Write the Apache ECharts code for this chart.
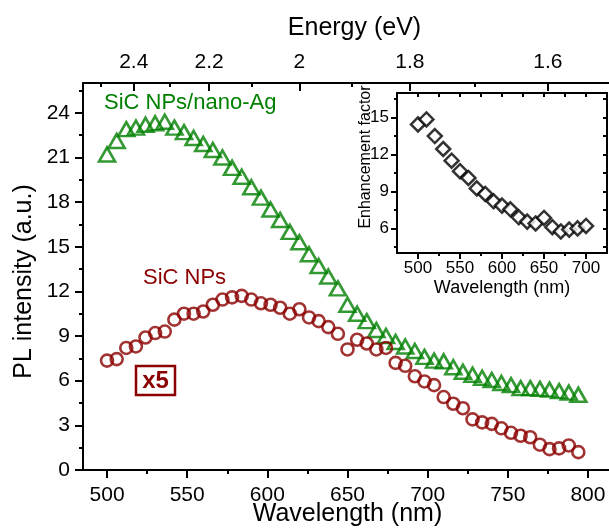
<!DOCTYPE html>
<html>
<head>
<meta charset="utf-8">
<script src="https://cdn.jsdelivr.net/npm/echarts@6/dist/echarts.min.js"></script>
<style>
  html, body { margin: 0; padding: 0; background: #fff; }
  #chart { width: 609px; height: 532px; }
</style>
</head>
<body>
<div id="chart"></div>
<script>
// PL spectra, one point every 6 nm
const wavelength = [
  500, 506, 512, 518, 524, 530, 536, 542, 548, 554,
  560, 566, 572, 578, 584, 590, 596, 602, 608, 614,
  620, 626, 632, 638, 644, 650, 656, 662, 668, 674,
  680, 686, 692, 698, 704, 710, 716, 722, 728, 734,
  740, 746, 752, 758, 764, 770, 776, 782, 788, 794
];
// SiC NPs on nano-Ag
const plNanoAg = [
  21.2, 22.1, 22.9, 23.0, 23.2, 23.3, 23.4, 23.0, 22.7, 22.3,
  21.9, 21.5, 21.0, 20.3, 19.7, 19.0, 18.3, 17.5, 16.8, 16.0,
  15.3, 14.5, 13.7, 13.0, 12.2, 11.1, 10.5, 10.0, 9.4, 9.0,
  8.6, 8.3, 8.0, 7.6, 7.35, 7.3, 6.9, 6.6, 6.4, 6.2,
  6.05, 5.85, 5.7, 5.5, 5.5, 5.45, 5.4, 5.3, 5.2, 5.05
];
// bare SiC NPs (x5)
const plSiC = [
  7.35, 7.45, 8.2, 8.3, 8.9, 9.2, 9.3, 10.1, 10.5, 10.5,
  10.65, 11.1, 11.45, 11.6, 11.7, 11.45, 11.2, 11.1, 10.9, 10.5,
  10.8, 10.25, 10.0, 9.6, 9.15, 8.1, 8.75, 8.5, 8.1, 8.2,
  7.2, 7.0, 6.3, 5.95, 5.7, 4.9, 4.45, 4.15, 3.4, 3.2,
  3.1, 2.8, 2.5, 2.3, 2.2, 1.7, 1.4, 1.45, 1.65, 1.2
];

// inset: enhancement factor
const insetWavelength = [500, 510, 520, 530, 540, 550, 560, 570, 580, 590, 600,
  610, 620, 630, 640, 650, 660, 670, 680, 690, 700];
const enhancement = [14.45, 14.85, 13.5, 12.45, 11.5, 10.65, 10.1, 9.25, 8.8, 8.2, 7.85,
  7.55, 6.9, 6.55, 6.4, 6.85, 6.1, 5.75, 5.9, 6.0, 6.2];

// ticks
const xTicks = [500, 550, 600, 650, 700, 750, 800];
const xMinor = [525, 575, 625, 675, 725, 775];
const yTicks = [0, 3, 6, 9, 12, 15, 18, 21, 24];
const yMinor = [1.5, 4.5, 7.5, 10.5, 13.5, 16.5, 19.5, 22.5, 25.5];
const energyTicks = [2.4, 2.2, 2.0, 1.8, 1.6];
const energyMinor = [2.5, 2.3, 2.1, 1.9, 1.7];
const insetXTicks = [500, 550, 600, 650, 700];
const insetXMinor = [525, 575, 625, 675];
const insetYTicks = [6, 9, 12, 15];
const insetYMinor = [4.5, 7.5, 10.5, 13.5, 16.5];

const FONT = '"Liberation Sans", Arial, sans-serif';
const GREEN = '#008000';
const RED = '#8b0000';
const toNm = e => 1240 / e;

function tickAxis(extra) {
  // bare axis: only ticks, no line, no labels
  return Object.assign({
    type: 'value',
    axisLine: { show: false, onZero: false },
    axisLabel: { show: false },
    splitLine: { show: false }
  }, extra);
}

const line = { show: true, onZero: false, lineStyle: { color: '#000', width: 2 } };
const tickStyle = { color: '#000', width: 2 };

const chart = echarts.init(document.getElementById('chart'), null, { renderer: 'canvas' });

chart.setOption({
  animation: false,
  backgroundColor: '#fff',
  textStyle: { fontFamily: FONT },
  grid: [
    { left: 83, top: 83, right: -3, bottom: 62, outerBoundsMode: 'none' },
    { left: 397, top: 93, width: 210, height: 160, outerBoundsMode: 'none',
      show: true, backgroundColor: '#fff', borderWidth: 0 }
  ],
  xAxis: [
    {
      gridIndex: 0, type: 'value', position: 'bottom', min: 485, max: 815,
      axisLine: line,
      axisTick: { customValues: xTicks, length: 8, lineStyle: tickStyle },
      axisLabel: { customValues: xTicks, margin: 15, fontSize: 21, color: '#000', fontFamily: FONT },
      splitLine: { show: false },
      name: 'Wavelength (nm)', nameLocation: 'middle', nameGap: 32, nameMoveOverlap: false,
      nameTextStyle: { fontSize: 25, color: '#000', fontFamily: FONT }
    },
    tickAxis({ gridIndex: 0, position: 'bottom', min: 485, max: 815,
      axisTick: { customValues: xMinor, length: 4, lineStyle: tickStyle } }),
    {
      gridIndex: 0, type: 'value', position: 'top', min: 485, max: 815,
      axisLine: line,
      axisTick: { customValues: energyTicks.map(toNm), inside: true, length: 8, lineStyle: tickStyle },
      axisLabel: {
        customValues: energyTicks.map(toNm), margin: 10, fontSize: 21, color: '#000', fontFamily: FONT,
        formatter: v => String(Math.round(1240 / v * 10) / 10)
      },
      splitLine: { show: false },
      name: 'Energy (eV)', nameLocation: 'middle', nameGap: 42, nameMoveOverlap: false,
      nameTextStyle: { fontSize: 25, color: '#000', fontFamily: FONT, padding: [0, 0, 0, 14] }
    },
    tickAxis({ gridIndex: 0, position: 'top', min: 485, max: 815,
      axisTick: { customValues: energyMinor.map(toNm), inside: true, length: 4, lineStyle: tickStyle } }),
    // inset
    {
      gridIndex: 1, type: 'value', position: 'bottom', min: 475, max: 725,
      axisLine: line,
      axisTick: { customValues: insetXTicks, length: 6, lineStyle: tickStyle },
      axisLabel: { customValues: insetXTicks, margin: 7, fontSize: 17, color: '#000', fontFamily: FONT },
      splitLine: { show: false },
      name: 'Wavelength (nm)', nameLocation: 'middle', nameGap: 26, nameMoveOverlap: false,
      nameTextStyle: { fontSize: 18, color: '#000', fontFamily: FONT }
    },
    tickAxis({ gridIndex: 1, position: 'bottom', min: 475, max: 725,
      axisTick: { customValues: insetXMinor, length: 3, lineStyle: tickStyle } }),
    tickAxis({ gridIndex: 1, position: 'top', min: 475, max: 725, axisLine: line,
      axisTick: { customValues: insetXTicks.concat(insetXMinor), inside: true, length: 4, lineStyle: tickStyle } })
  ],
  yAxis: [
    {
      gridIndex: 0, type: 'value', position: 'left', min: 0, max: 26,
      axisLine: line,
      axisTick: { customValues: yTicks, length: 8, lineStyle: tickStyle },
      axisLabel: { customValues: yTicks, margin: 13, fontSize: 21, color: '#000', fontFamily: FONT },
      splitLine: { show: false },
      name: 'PL intensity (a.u.)', nameLocation: 'middle', nameGap: 46, nameMoveOverlap: false,
      nameTextStyle: { fontSize: 25, color: '#000', fontFamily: FONT, padding: [0, 10, 0, 0] }
    },
    tickAxis({ gridIndex: 0, position: 'left', min: 0, max: 26,
      axisTick: { customValues: yMinor, length: 4, lineStyle: tickStyle } }),
    // inset
    {
      gridIndex: 1, type: 'value', position: 'left', min: 4, max: 17,
      axisLine: line,
      axisTick: { customValues: insetYTicks, length: 6, lineStyle: tickStyle },
      axisLabel: { customValues: insetYTicks, margin: 8, fontSize: 17, color: '#000', fontFamily: FONT },
      splitLine: { show: false },
      name: 'Enhancement factor', nameLocation: 'middle', nameGap: 23, nameMoveOverlap: false,
      nameTextStyle: { fontSize: 16, color: '#000', fontFamily: FONT, padding: [0, 0, 0, 32] }
    },
    tickAxis({ gridIndex: 1, position: 'left', min: 4, max: 17,
      axisTick: { customValues: insetYMinor, length: 3, lineStyle: tickStyle } }),
    tickAxis({ gridIndex: 1, position: 'right', min: 4, max: 17, axisLine: line,
      axisTick: { customValues: insetYTicks.concat(insetYMinor), inside: true, length: 4, lineStyle: tickStyle } })
  ],
  series: [
    {
      name: 'SiC NPs/nano-Ag', type: 'scatter', xAxisIndex: 0, yAxisIndex: 0,
      symbol: 'triangle', symbolSize: [16, 14],
      itemStyle: { color: 'rgba(0,0,0,0)', borderColor: GREEN, borderWidth: 2.6 },
      data: wavelength.map((w, i) => [w, plNanoAg[i]])
    },
    {
      name: 'SiC NPs', type: 'scatter', xAxisIndex: 0, yAxisIndex: 0,
      symbol: 'circle', symbolSize: 12,
      itemStyle: { color: 'rgba(0,0,0,0)', borderColor: RED, borderWidth: 2.6 },
      data: wavelength.map((w, i) => [w, plSiC[i]])
    },
    {
      name: 'Enhancement factor', type: 'scatter', xAxisIndex: 4, yAxisIndex: 2,
      symbol: 'diamond', symbolSize: 14,
      itemStyle: { color: '#fff', borderColor: '#000', borderWidth: 2.5 },
      data: insetWavelength.map((w, i) => [w, enhancement[i]])
    }
  ],
  graphic: [
    { type: 'text', x: 104, y: 103,
      style: { text: 'SiC NPs/nano-Ag', fill: GREEN, font: '22px ' + FONT, verticalAlign: 'middle' } },
    { type: 'text', x: 143, y: 278,
      style: { text: 'SiC NPs', fill: RED, font: '22px ' + FONT, verticalAlign: 'middle' } },
    { type: 'rect', shape: { x: 136, y: 366, width: 39, height: 29 },
      style: { fill: 'none', stroke: RED, lineWidth: 2.5 } },
    { type: 'text', x: 155.5, y: 381,
      style: { text: 'x5', fill: RED, font: 'bold 24px ' + FONT, align: 'center', verticalAlign: 'middle' } }
  ]
});
</script>
</body>
</html>
